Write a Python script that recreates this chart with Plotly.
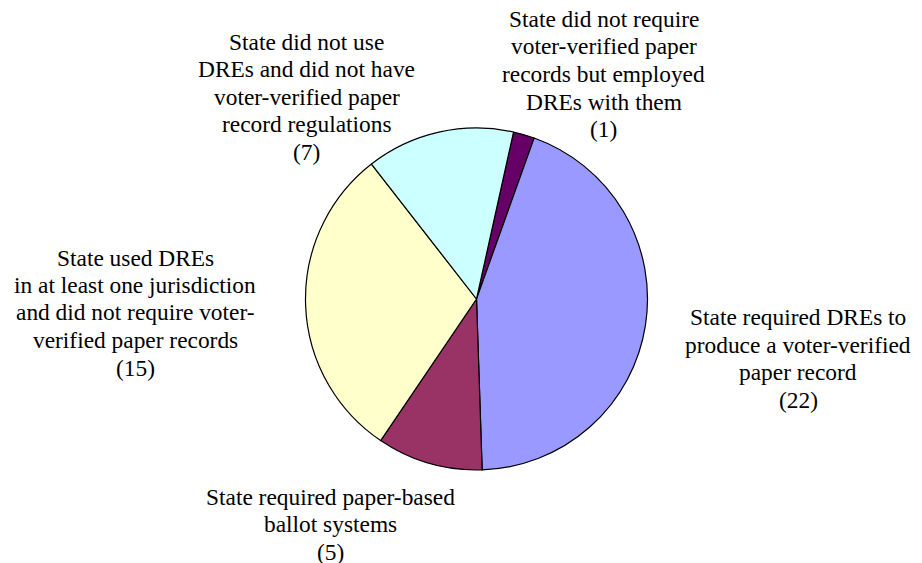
import plotly.graph_objects as go

labels = [
    "State did not require<br>voter-verified paper<br>records but employed<br>DREs with them",
    "State required DREs to<br>produce a voter-verified<br>paper record",
    "State required paper-based<br>ballot systems",
    "State used DREs<br>in at least one jurisdiction<br>and did not require voter-<br>verified paper records",
    "State did not use<br>DREs and did not have<br>voter-verified paper<br>record regulations",
]
values = [1, 22, 5, 15, 7]
colors = ["#660066", "#9999FF", "#993366", "#FFFFCC", "#CCFFFF"]
# label block centres in page pixels (x, y from top)
label_pos = [(603.5, 74), (798, 358.5), (330, 524), (135, 312.5), (306.5, 97)]

OFF = 8          # default page body margin
LINE = 27.5      # line pitch of label text, px
FSIZE = 23.4
W, H = 922 - OFF, 563 - OFF
cx, cy, r = 476.5 - OFF, 299 - OFF, 171

FONT = "Liberation Serif, Times New Roman, serif"

fig = go.Figure(go.Pie(
    labels=labels,
    values=values,
    marker=dict(colors=colors, line=dict(color="black", width=1.2)),
    sort=False,
    direction="clockwise",
    rotation=12.5,
    textinfo="none",
    hoverinfo="label+value",
    showlegend=False,
    domain=dict(x=[(cx - r) / W, (cx + r) / W], y=[(H - cy - r) / H, (H - cy + r) / H]),
))

for lab, v, (px, py) in zip(labels, values, label_pos):
    lines = lab.split("<br>") + [f"({v})"]
    n = len(lines)
    for i, ln in enumerate(lines):
        ly = py - OFF + (i - (n - 1) / 2) * LINE
        fig.add_annotation(
            x=(px - OFF) / W, y=1 - ly / H, xref="paper", yref="paper",
            text=ln, showarrow=False, align="center",
            xanchor="center", yanchor="middle",
            font=dict(family=FONT, size=FSIZE, color="black"),
        )

fig.update_layout(
    width=W, height=H,
    margin=dict(l=0, r=0, t=0, b=0),
    paper_bgcolor="white", plot_bgcolor="white",
    font=dict(family=FONT, color="black"),
)
fig.write_html("out.html")
